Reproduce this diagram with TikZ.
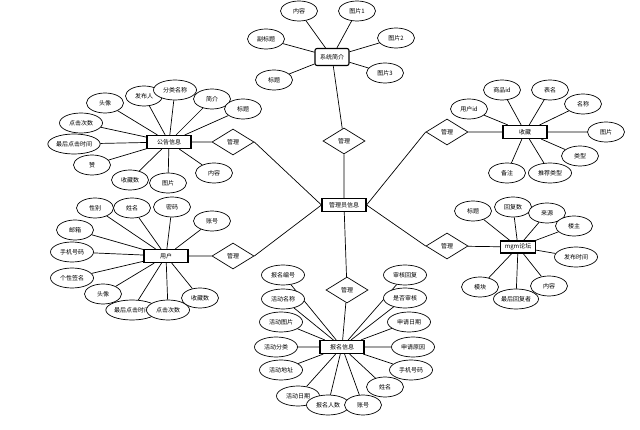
\documentclass[tikz,border=0pt]{standalone}
\usepackage{fontspec}
\newfontfamily\cjk{Noto Sans CJK SC}
\usetikzlibrary{shapes.geometric,backgrounds}
\begin{document}
\begin{tikzpicture}[x=1pt,y=-1pt,
          every node/.style={font=\cjk\fontsize{6}{7}\selectfont},
          ent/.style={draw,line width=1.1pt,fill=white,minimum width=44pt,minimum height=13pt,inner sep=1pt},
          attr/.style={draw,line width=0.7pt,ellipse,fill=white,minimum width=37pt,minimum height=20pt,inner sep=0.5pt},
          wattr/.style={attr,minimum width=43pt},
          rel/.style={draw,line width=0.7pt,diamond,fill=white,minimum width=42pt,minimum height=26pt,inner sep=0pt},
          link/.style={line width=0.7pt}]
          \useasboundingbox (0,0) rectangle (640,430);

          \node[ent] (admin) at (344,205) {管理员信息};
          \node[ent,rounded corners=2pt,minimum width=34pt,minimum height=17pt] (sys) at (332,57) {系统简介};
          \node[ent] (notice) at (169,142) {公告信息};
          \node[ent] (user) at (166,256) {用户};
          \node[ent] (fav) at (525,132) {收藏};
          \node[ent,minimum width=35pt,minimum height=12pt] (bbs) at (518,247) {mgm论坛};
          \node[ent] (sign) at (342,347) {报名信息};

          \node[rel] (mSys) at (344,141) {管理};
          \node[rel] (mNotice) at (233,142) {管理};
          \node[rel] (mUser) at (233,256) {管理};
          \node[rel] (mFav) at (447,132) {管理};
          \node[rel] (mBbs) at (447,246) {管理};
          \node[rel] (mSign) at (347,290) {管理};

          \node[attr] (s1) at (299,11) {内容};
          \node[attr] (s2) at (357,11) {图片1};
          \node[attr] (s3) at (266,39) {副标题};
          \node[attr] (s4) at (396,38) {图片2};
          \node[attr] (s5) at (274,80) {标题};
          \node[attr] (s6) at (385,73) {图片3};

          \node[attr] (n1) at (105,103) {头像};
          \node[attr] (n2) at (144,96) {发布人};
          \node[wattr] (n3) at (175,90) {分类名称};
          \node[attr] (n4) at (212,99) {简介};
          \node[attr] (n5) at (243,109) {标题};
          \node[wattr] (n6) at (81,123) {点击次数};
          \node[attr] (n7) at (74,144) {最后点击时间};
          \node[attr] (n8) at (92,165) {赞};
          \node[attr] (n9) at (130,180) {收藏数};
          \node[attr] (n10) at (168,183) {图片};
          \node[attr] (n11) at (214,173) {内容};

          \node[attr] (u1) at (95,208) {性别};
          \node[attr] (u2) at (132,208) {姓名};
          \node[attr] (u3) at (172,207) {密码};
          \node[attr] (u4) at (212,221) {账号};
          \node[attr] (u5) at (75,230) {邮箱};
          \node[wattr] (u6) at (72,252) {手机号码};
          \node[wattr] (u7) at (72,278) {个性签名};
          \node[attr] (u8) at (103,294) {头像};
          \node[attr] (u9) at (132,310) {最后点击时间};
          \node[wattr] (u10) at (168,310) {点击次数};
          \node[attr] (u11) at (200,298) {收藏数};

          \node[attr] (f1) at (469,109) {用户id};
          \node[attr] (f2) at (502,90) {商品id};
          \node[attr] (f3) at (550,90) {表名};
          \node[attr] (f4) at (583,104) {名称};
          \node[attr] (f5) at (606,132) {图片};
          \node[attr] (f6) at (580,156) {类型};
          \node[attr] (f7) at (507,173) {备注};
          \node[wattr] (f8) at (550,173) {推荐类型};

          \node[attr] (b1) at (473,211) {标题};
          \node[attr] (b2) at (513,207) {回复数};
          \node[attr] (b3) at (547,213) {来源};
          \node[attr] (b4) at (574,226) {楼主};
          \node[wattr] (b5) at (576,257) {发布时间};
          \node[attr] (b6) at (480,287) {模块};
          \node[attr,minimum width=45pt] (b7) at (516,299) {最后回复者};
          \node[attr] (b8) at (549,286) {内容};

          \node[wattr] (r1) at (283,275) {报名编号};
          \node[wattr] (r2) at (283,299) {活动名称};
          \node[wattr] (r3) at (281,322) {活动图片};
          \node[wattr] (r4) at (276,347) {活动分类};
          \node[wattr] (r5) at (281,370) {活动地址};
          \node[wattr] (r6) at (298,396) {活动日期};
          \node[wattr] (r7) at (328,405) {报名人数};
          \node[attr] (r8) at (363,405) {账号};
          \node[attr] (r9) at (385,387) {姓名};
          \node[wattr] (r10) at (405,275) {审核回复};
          \node[wattr] (r11) at (405,298) {是否审核};
          \node[wattr] (r12) at (409,322) {申请日期};
          \node[wattr] (r13) at (413,347) {申请原因};
          \node[wattr] (r14) at (411,370) {手机号码};

          \begin{scope}[on background layer]
          \draw[link] (sys) -- (mSys) (mSys) -- (admin);
          \draw[link] (notice) -- (mNotice) (mNotice.east) -- (admin.west);
          \draw[link] (user) -- (mUser) (mUser.east) -- (admin.west);
          \draw[link] (fav) -- (mFav) (mFav.west) -- (admin.east);
          \draw[link] (bbs) -- (mBbs) (mBbs.west) -- (admin.east);
          \draw[link] (admin) -- (mSign) (mSign) -- (sign);

          \draw[link] (sys) -- (s1) (sys) -- (s2) (sys) -- (s3) (sys) -- (s4) (sys) -- (s5) (sys) -- (s6);
          \draw[link] (notice) -- (n1) (notice) -- (n2) (notice) -- (n3) (notice) -- (n4) (notice) -- (n5) (notice) -- (n6)
                      (notice) -- (n7) (notice) -- (n8) (notice) -- (n9) (notice) -- (n10) (notice) -- (n11);
          \draw[link] (user) -- (u1) (user) -- (u2) (user) -- (u3) (user) -- (u4) (user) -- (u5) (user) -- (u6)
                      (user) -- (u7) (user) -- (u8) (user) -- (u9) (user) -- (u10) (user) -- (u11);
          \draw[link] (fav) -- (f1) (fav) -- (f2) (fav) -- (f3) (fav) -- (f4) (fav) -- (f5) (fav) -- (f6)
                      (fav) -- (f7) (fav) -- (f8);
          \draw[link] (bbs) -- (b1) (bbs) -- (b2) (bbs) -- (b3) (bbs) -- (b4) (bbs) -- (b5) (bbs) -- (b6)
                      (bbs) -- (b7) (bbs) -- (b8);
          \draw[link] (sign) -- (r1) (sign) -- (r2) (sign) -- (r3) (sign) -- (r4) (sign) -- (r5) (sign) -- (r6)
                      (sign) -- (r7) (sign) -- (r8) (sign) -- (r9) (sign) -- (r10) (sign) -- (r11) (sign) -- (r12)
                      (sign) -- (r13) (sign) -- (r14);
          \end{scope}
        \end{tikzpicture}
\end{document}
